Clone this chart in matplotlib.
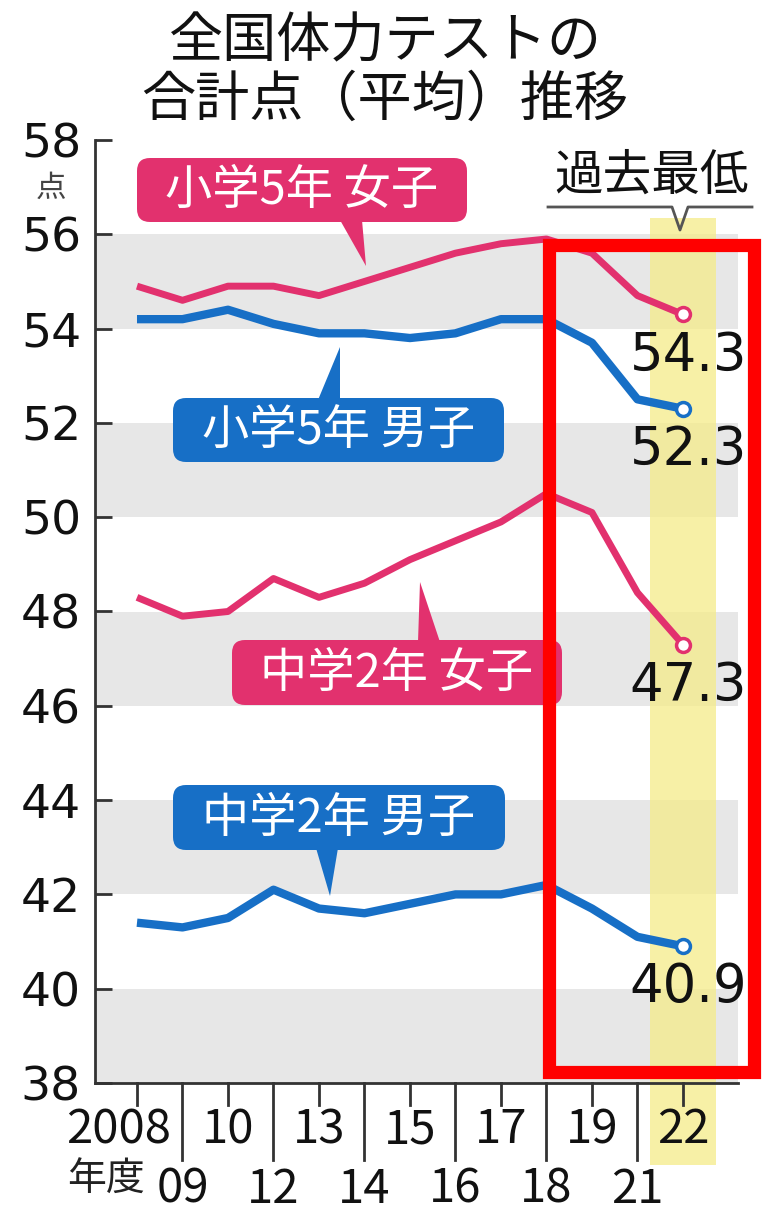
import matplotlib
matplotlib.use('Agg')
import matplotlib.pyplot as plt
import matplotlib.transforms as mtransforms
from matplotlib.patches import FancyBboxPatch, Polygon, Rectangle
from matplotlib.lines import Line2D

plt.rcParams['font.family'] = ['Noto Sans CJK JP', 'DejaVu Sans']

# data
years = ['2008', '09', '10', '12', '13', '14', '15', '16', '17', '18', '19', '21', '22']
es_girls = [54.9, 54.6, 54.9, 54.9, 54.7, 55.0, 55.3, 55.6, 55.8, 55.9, 55.6, 54.7, 54.3]
es_boys = [54.2, 54.2, 54.4, 54.1, 53.9, 53.9, 53.8, 53.9, 54.2, 54.2, 53.7, 52.5, 52.3]
jh_girls = [48.3, 47.9, 48.0, 48.7, 48.3, 48.6, 49.1, 49.5, 49.9, 50.5, 50.1, 48.4, 47.3]
jh_boys = [41.4, 41.3, 41.5, 42.1, 41.7, 41.6, 41.8, 42.0, 42.0, 42.2, 41.7, 41.1, 40.9]
yticks = list(range(38, 59, 2))

PINK = '#e2316e'
BLUE = '#176fc6'
NUM = 'DejaVu Sans'

fig = plt.figure(figsize=(7.62, 12.12), dpi=100)
# pixel coords, origin top-left
P = mtransforms.Affine2D().scale(0.01, -0.01).translate(0, 12.12) + fig.dpi_scale_trans

ax = fig.add_axes([95 / 762, 1 - 1083 / 1212, (738 - 95) / 762, (1083 - 140) / 1212])
x = list(range(len(years)))
ax.set_xlim(-0.923, 13.21)
ax.set_ylim(38, 58)

# gray bands
for lo in range(38, 58, 4):
    ax.axhspan(lo, lo + 2, color='#e7e7e7', lw=0, zorder=0)

# yellow highlight for latest year
ax.axvspan(x[-1] - 0.72, x[-1] + 0.72, ymin=-0.087, ymax=0.917,
           color='#f5ec88', alpha=0.75, lw=0, zorder=1, clip_on=False)

for vals, col, lw in [(es_girls, PINK, 5), (es_boys, BLUE, 6), (jh_girls, PINK, 5), (jh_boys, BLUE, 6)]:
    ax.plot(x, vals, color=col, lw=lw, solid_joinstyle='round', solid_capstyle='butt', zorder=3)
    ax.plot(x[-1], vals[-1], 'o', ms=10, mfc='white', mec=col, mew=2.5, zorder=4)
    ax.text(x[-1] + 0.12, vals[-1] - 0.87, f'{vals[-1]:.1f}', ha='center', va='center',
            fontsize=38, color='#111111', family=NUM, zorder=5)

for s in ['top', 'right']:
    ax.spines[s].set_visible(False)
for s in ['left', 'bottom']:
    ax.spines[s].set_color('#333333')
    ax.spines[s].set_linewidth(2)

ax.set_yticks(yticks)
ax.set_yticklabels([str(t) for t in yticks], fontsize=34, family=NUM, color='#111111')
ax.tick_params(axis='y', direction='in', length=12, width=2, color='#333333', pad=10)
ax.set_xticks([])

# x ticks: alternate rows, long ticks between upper labels
tb = ax.get_xaxis_transform()
for i, lab in enumerate(years):
    if i % 2 == 0:
        ax.add_line(Line2D([i, i], [0, -0.023], transform=tb, color='#333333', lw=2, clip_on=False))
        xi = i - 0.4 if i == 0 else i
        ax.text(xi, -0.050, lab, transform=tb, ha='center', va='center', fontsize=34,
                color='#111111')
    else:
        ax.add_line(Line2D([i, i], [0, -0.082], transform=tb, color='#333333', lw=2, clip_on=False))
        ax.text(i, -0.113, lab, transform=tb, ha='center', va='center', fontsize=34, color='#111111')
ax.text(-0.68, -0.103, '年度', transform=tb, ha='center', va='center', fontsize=28, color='#222222')

# title and unit
fig.text(385, 42, '全国体力テストの', transform=P, ha='center', va='center', fontsize=39, color='#111111')
fig.text(385, 100, '合計点（平均）推移', transform=P, ha='center', va='center', fontsize=39, color='#111111')
fig.text(51, 188, '点', transform=P, ha='center', va='center', fontsize=22, color='#444444')

# 過去最低 marker
fig.text(652, 176, '過去最低', transform=P, ha='center', va='center', fontsize=35, color='#111111')
fig.add_artist(Line2D([548, 672, 680, 688, 752], [207, 207, 230, 207, 207], transform=P,
                      color='#555555', lw=2))


def label_box(x0, y0, x1, y1, text, col, tail):
    fig.add_artist(FancyBboxPatch((x0, y0), x1 - x0, y1 - y0, transform=P,
                                  boxstyle='round,pad=0,rounding_size=13', fc=col, ec='none'))
    fig.add_artist(Polygon(tail, closed=True, transform=P, fc=col, ec='none'))
    fig.text((x0 + x1) / 2, (y0 + y1) / 2 + 1, text, transform=P, ha='center', va='center',
             fontsize=34, color='white')


label_box(137, 158, 467, 222, '小学5年 女子', PINK, [(340, 220), (362, 220), (366, 266)])
label_box(173, 398, 504, 462, '小学5年 男子', BLUE, [(318, 400), (340, 400), (340, 347)])
label_box(232, 640, 562, 705, '中学2年 女子', PINK, [(418, 642), (440, 642), (420, 582)])
label_box(173, 785, 505, 850, '中学2年 男子', BLUE, [(316, 848), (338, 848), (330, 896)])

# red outline
fig.add_artist(Rectangle((549, 245), 205, 827, transform=P, fill=False, ec='#ff0000', lw=9.5, zorder=10))

fig.savefig('out.png', dpi=100)
